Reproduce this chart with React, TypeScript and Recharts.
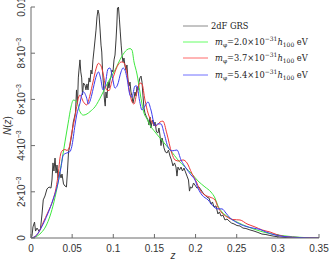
import { LineChart, Line, XAxis, YAxis, Legend } from "recharts";

const FRAME = "#6a6a6a";
const TEXT = "#333";
const SANS = "'Liberation Sans', Arial, Helvetica, sans-serif";
const SERIF = "'DejaVu Serif', 'Liberation Serif', serif";

// z ticks and N(z) ticks
const zTicks = [0, 0.05, 0.1, 0.15, 0.2, 0.25, 0.3, 0.35];
const nTicks = [0, 0.002, 0.004, 0.006, 0.008, 0.01];

// 2dF GRS redshift distribution (N in units of 1e-3)
const grsZ = [
  0, 0.0012, 0.0024, 0.0043, 0.0055, 0.0073, 0.0097, 0.0115, 0.0134, 0.0149,
  0.017, 0.0194, 0.0219, 0.0243, 0.0255, 0.0267, 0.0279, 0.0292, 0.0304, 0.0316,
  0.0328, 0.0346, 0.0365, 0.0377, 0.0395, 0.0413, 0.0431, 0.0444, 0.0456, 0.0474,
  0.0495, 0.0514, 0.0529, 0.0541, 0.0553, 0.0565, 0.0575, 0.0583, 0.0595, 0.0605,
  0.0616, 0.0626, 0.0638, 0.0656, 0.0668, 0.068, 0.0693, 0.0705, 0.0717, 0.0729,
  0.0741, 0.0753, 0.0766, 0.0778, 0.079, 0.0802, 0.0814, 0.0826, 0.0838, 0.0851,
  0.086, 0.0869, 0.0881, 0.0893, 0.0902, 0.0911, 0.0923, 0.0936, 0.0948, 0.096,
  0.0972, 0.0984, 0.0996, 0.1009, 0.1021, 0.1033, 0.1043, 0.1051, 0.1063, 0.1075,
  0.1085, 0.1096, 0.1106, 0.1118, 0.113, 0.1142, 0.1154, 0.1166, 0.1179, 0.1191,
  0.1203, 0.1215, 0.1227, 0.1239, 0.1252, 0.1264, 0.1276, 0.1288, 0.13, 0.1312,
  0.1324, 0.1337, 0.1349, 0.1361, 0.1373, 0.1385, 0.1403, 0.1422, 0.1434, 0.1446,
  0.1458, 0.147, 0.1482, 0.1495, 0.1507, 0.1525, 0.1543, 0.1555, 0.1567, 0.158,
  0.1592, 0.1604, 0.1616, 0.1634, 0.1653, 0.1671, 0.1689, 0.1707, 0.1725, 0.1744,
  0.1762, 0.1774, 0.1786, 0.1804, 0.1823, 0.1841, 0.1859, 0.1877, 0.1896, 0.1914,
  0.1926, 0.1938, 0.1956, 0.1975, 0.1993, 0.2017, 0.2041, 0.2066, 0.209, 0.2114,
  0.2139, 0.2163, 0.2187, 0.2205, 0.2224, 0.2248, 0.2272, 0.229, 0.2309, 0.2333,
  0.2357, 0.2382, 0.2406, 0.2436, 0.2467, 0.2503, 0.254, 0.2576, 0.2612, 0.2661,
  0.271, 0.2758, 0.2807, 0.2855, 0.2904, 0.2965, 0.3026, 0.3099, 0.3208, 0.3329,
  0.35,
];
const grsN = [
  0, 0.09, 0.48, 0.69, 0.3, 0.43, 0.3, 0.39, 1.04, 1.65,
  1.82, 2.12, 2.21, 2.16, 2.51, 3.25, 2.9, 3.46, 2.81, 3.16,
  2.6, 2.86, 2.6, 2.77, 2.34, 2.25, 2.21, 2.94, 3.72, 4.03,
  4.46, 5.02, 5.24, 5.45, 6.41, 5.8, 6.93, 7.27, 7.71, 7.19,
  6.93, 6.19, 6.71, 6.62, 6.41, 6.67, 6.41, 6.93, 6.75, 7.27,
  7.1, 7.71, 8.14, 8.57, 9.0, 9.57, 9.87, 9.7, 9.09, 8.35,
  8.05, 7.27, 6.62, 5.97, 5.71, 6.32, 6.06, 6.75, 6.49, 6.84,
  6.97, 7.27, 7.19, 7.71, 7.92, 8.57, 9.22, 9.96, 10.0, 9.44,
  8.92, 8.35, 7.92, 7.62, 7.79, 7.45, 7.27, 7.49, 6.84, 6.58,
  6.75, 6.32, 6.15, 5.84, 6.06, 6.32, 6.15, 6.54, 6.41, 6.75,
  6.93, 7.01, 6.75, 6.15, 5.63, 5.41, 5.24, 5.11, 4.89, 5.24,
  4.76, 5.02, 5.11, 4.85, 5.02, 4.59, 4.55, 4.76, 4.46, 4.0,
  4.33, 4.16, 3.9, 3.72, 3.68, 3.81, 3.55, 3.38, 3.12, 3.25,
  3.07, 2.68, 3.07, 2.94, 3.07, 2.9, 3.03, 2.86, 2.68, 2.51,
  2.03, 2.21, 2.16, 2.38, 2.29, 2.16, 2.21, 2.08, 1.95, 1.86,
  1.77, 1.73, 1.47, 1.56, 1.34, 1.39, 1.04, 1.13, 0.95, 0.99,
  0.78, 0.82, 0.74, 0.65, 0.61, 0.54, 0.52, 0.43, 0.41, 0.35,
  0.3, 0.24, 0.17, 0.15, 0.11, 0.07, 0.04, 0.02, 0.01, 0,
  0,
];

// model m_phi = 2.0e-31 h100 eV
const m20Z = [
  0, 0.0061, 0.0122, 0.0182, 0.0231, 0.0279, 0.0328, 0.0377, 0.0413, 0.045,
  0.0486, 0.0514, 0.0555, 0.0595, 0.0636, 0.068, 0.0717, 0.0778, 0.0859, 0.0936,
  0.1021, 0.1102, 0.1163, 0.1203, 0.1227, 0.1252, 0.1288, 0.1324, 0.1349, 0.1373,
  0.141, 0.1446, 0.1507, 0.1567, 0.1628, 0.1701, 0.1786, 0.1871, 0.1956, 0.2029,
  0.2114, 0.2187, 0.2236, 0.2272, 0.2321, 0.2394, 0.2503, 0.2637, 0.2783, 0.2928,
  0.3086, 0.3268, 0.35,
];
const m20N = [
  0, 0.06, 0.22, 0.52, 0.95, 1.56, 2.38, 3.38, 4.16, 4.94,
  5.67, 5.97, 5.9, 5.47, 5.32, 5.37, 5.47, 5.68, 6.19, 6.75,
  7.27, 7.85, 8.14, 8.2, 8.14, 7.62, 7.1, 6.32, 5.8, 5.41,
  5.15, 4.89, 4.59, 4.33, 4.07, 3.77, 3.38, 3.07, 2.77, 2.47,
  2.21, 1.99, 1.73, 1.39, 1.13, 0.91, 0.69, 0.48, 0.3, 0.17,
  0.09, 0.03, 0,
];

// model m_phi = 3.7e-31 h100 eV
const m37Z = [
  0, 0.0049, 0.0097, 0.0146, 0.0207, 0.0267, 0.0304, 0.0334, 0.0352, 0.0377,
  0.0413, 0.0437, 0.0462, 0.0495, 0.0535, 0.0575, 0.0595, 0.0636, 0.0677, 0.0717,
  0.0753, 0.079, 0.0818, 0.0851, 0.0875, 0.092, 0.0948, 0.0981, 0.1021, 0.1057,
  0.1102, 0.113, 0.1163, 0.1191, 0.1224, 0.1252, 0.1288, 0.1324, 0.1349, 0.1385,
  0.1422, 0.147, 0.1519, 0.1567, 0.1604, 0.1649, 0.171, 0.175, 0.1798, 0.1847,
  0.1896, 0.1953, 0.2005, 0.2053, 0.2114, 0.2175, 0.2236, 0.2272, 0.2321, 0.2382,
  0.2454, 0.254, 0.2625, 0.2722, 0.2807, 0.2904, 0.3001, 0.3147, 0.35,
];
const m37N = [
  0, 0.06, 0.26, 0.65, 1.13, 1.65, 2.16, 2.86, 3.46, 3.77,
  3.83, 3.79, 3.9, 4.55, 5.25, 6.05, 6.19, 5.9, 5.76, 6.19,
  6.75, 7.32, 7.56, 7.45, 7.14, 6.41, 6.38, 6.75, 7.19, 7.49,
  7.62, 7.58, 7.19, 6.49, 5.93, 5.8, 6.32, 6.71, 6.67, 5.97,
  5.41, 5.02, 4.85, 5.02, 5.06, 4.55, 3.68, 3.38, 3.33, 3.38,
  3.25, 2.81, 2.47, 2.08, 1.86, 1.77, 1.65, 1.34, 1.08, 0.91,
  0.8, 0.78, 0.61, 0.48, 0.35, 0.26, 0.13, 0.04, 0,
];

// model m_phi = 5.4e-31 h100 eV
const m54Z = [
  0, 0.0049, 0.0122, 0.0207, 0.0267, 0.0328, 0.0365, 0.0392, 0.0434, 0.0474,
  0.0495, 0.0535, 0.0555, 0.0595, 0.0616, 0.0636, 0.0677, 0.0696, 0.0738, 0.0757,
  0.0798, 0.082, 0.0845, 0.0875, 0.0899, 0.0936, 0.096, 0.0984, 0.1021, 0.1051,
  0.1094, 0.1118, 0.1142, 0.1166, 0.1203, 0.1227, 0.1264, 0.1288, 0.1318, 0.1349,
  0.1385, 0.1422, 0.1458, 0.1507, 0.1543, 0.158, 0.1616, 0.1665, 0.1713, 0.1774,
  0.1823, 0.1883, 0.1944, 0.1993, 0.2029, 0.2078, 0.2151, 0.2224, 0.2272, 0.2321,
  0.2369, 0.2418, 0.2491, 0.2612, 0.2698, 0.2783, 0.2855, 0.2965, 0.3086, 0.3268,
  0.35,
];
const m54N = [
  0, 0.06, 0.43, 1.08, 1.65, 2.38, 3.07, 3.59, 3.68, 3.74,
  3.95, 4.89, 5.32, 5.84, 6.19, 6.33, 6.05, 5.8, 6.19, 6.49,
  7.06, 7.19, 6.93, 6.41, 6.58, 7.32, 7.36, 7.06, 6.49, 6.62,
  7.19, 7.36, 7.27, 6.93, 6.19, 6.1, 6.58, 6.58, 5.97, 5.54,
  5.71, 5.89, 5.54, 4.85, 4.94, 4.94, 4.55, 3.94, 3.77, 3.81,
  3.38, 3.03, 2.73, 2.51, 2.16, 1.86, 1.65, 1.34, 1.26, 1.26,
  1.08, 0.87, 0.69, 0.5, 0.43, 0.37, 0.26, 0.13, 0.06, 0.02,
  0,
];

const toPoints = (zs: number[], ns: number[]) => zs.map((z, i) => ({ z, n: ns[i] * 1e-3 }));

const series = [
  { key: "grs", name: "2dF GRS", color: "#3a3a3a", legendColor: "#8a8a8a", type: "linear", data: toPoints(grsZ, grsN) },
  { key: "m20", name: "2.0", color: "#3ee83e", legendColor: "#66ff66", type: "monotone", data: toPoints(m20Z, m20N) },
  { key: "m37", name: "3.7", color: "#f03838", legendColor: "#ff6a6a", type: "monotone", data: toPoints(m37Z, m37N) },
  { key: "m54", name: "5.4", color: "#3c3cf0", legendColor: "#7070ff", type: "monotone", data: toPoints(m54Z, m54N) },
];

const fmtZ = (v: number) => String(v);

const BottomTick = ({ x, y, payload }: any) => (
  <g>
    <line x1={x} x2={x} y1={y} y2={y - 4} stroke={FRAME} />
    <text x={x} y={y + 14} textAnchor="middle" fontSize={10} fontFamily={SANS} fill={TEXT}>
      {fmtZ(payload.value)}
    </text>
  </g>
);

const TopTick = ({ x, y }: any) => (
  <line x1={x} x2={x} y1={y} y2={y + 4} stroke={FRAME} />
);

const RightTick = ({ x, y }: any) => (
  <line x1={x} x2={x - 4} y1={y} y2={y} stroke={FRAME} />
);

const LeftTick = ({ x, y, payload }: any) => {
  const v = payload.value;
  const tx = x - 6;
  let label: any;
  if (v === 0) label = "0";
  else if (Math.abs(v - 0.01) < 1e-9) label = "0.01";
  else
    label = (
      <>
        {Math.round(v * 1000)}×10
        <tspan dy={-4} fontSize={7}>−3</tspan>
      </>
    );
  return (
    <g>
      <line x1={x} x2={x + 4} y1={y} y2={y} stroke={FRAME} />
      <text
        x={tx}
        y={y}
        transform={`rotate(-90 ${tx} ${y})`}
        textAnchor="middle"
        fontSize={10}
        fontFamily={SANS}
        fill={TEXT}
      >
        {label}
      </text>
    </g>
  );
};

const legendLabel = (name: string) => {
  if (name === "2dF GRS") return <span>2dF GRS</span>;
  const sub = { fontSize: 6, position: "relative", top: 2, lineHeight: 0 } as const;
  const sup = { fontSize: 6, position: "relative", top: -4, lineHeight: 0 } as const;
  return (
    <span style={{ marginLeft: 4 }}>
      <i>m</i>
      <span style={sub}>φ</span>={name}×10<span style={sup}>−31</span>
      <i>h</i>
      <span style={sub}>100</span> eV
    </span>
  );
};

// keep the legend in the same order as the series (recharts sorts by name otherwise)
const renderLegend = () => (
  <div style={{ fontFamily: SERIF, fontSize: 8.3, color: "#222", lineHeight: "10px" }}>
    {series.map((s) => (
      <div key={s.key} style={{ display: "flex", alignItems: "center", height: 16.4, whiteSpace: "nowrap" }}>
        <svg width={25} height={4} style={{ display: "block", flex: "none" }}>
          <line x1={0} x2={25} y1={2} y2={2} stroke={s.legendColor} strokeWidth={1} />
        </svg>
        <span style={{ marginLeft: 3 }}>{legendLabel(s.name)}</span>
      </div>
    ))}
  </div>
);

export default function App() {
  return (
    <div style={{ position: "absolute", left: 0, top: 0, width: 329, height: 261, background: "#fff" }}>
      <LineChart width={329} height={261} margin={{ top: 7, right: 10, bottom: 0, left: 0 }}>
        <XAxis
          dataKey="z"
          type="number"
          domain={[0, 0.35]}
          ticks={zTicks}
          allowDataOverflow
          height={23}
          tickSize={0}
          tickMargin={0}
          tickLine={false}
          axisLine={{ stroke: FRAME }}
          tick={BottomTick}
          interval={0}
          label={({ viewBox }: any) => (
            <text
              x={viewBox.x + viewBox.width / 2 - 2}
              y={viewBox.y + 21}
              textAnchor="middle"
              fontSize={10}
              fontStyle="italic"
              fontFamily={SANS}
              fill={TEXT}
            >
              z
            </text>
          )}
        />
        <XAxis
          xAxisId="top"
          orientation="top"
          dataKey="z"
          type="number"
          domain={[0, 0.35]}
          ticks={zTicks}
          allowDataOverflow
          height={0}
          tickSize={0}
          tickMargin={0}
          tickLine={false}
          axisLine={{ stroke: FRAME }}
          tick={TopTick}
          interval={0}
        />
        <YAxis
          dataKey="n"
          type="number"
          domain={[0, 0.01]}
          ticks={nTicks}
          allowDataOverflow
          width={31}
          tickSize={0}
          tickMargin={0}
          tickLine={false}
          axisLine={{ stroke: FRAME }}
          tick={LeftTick}
          interval={0}
          label={({ viewBox }: any) => {
            const cx = viewBox.x + 11;
            const cy = viewBox.y + viewBox.height / 2 + 3;
            return (
              <text
                x={cx}
                y={cy}
                transform={`rotate(-90 ${cx} ${cy})`}
                textAnchor="middle"
                fontSize={10}
                fontFamily={SANS}
                fill={TEXT}
              >
                <tspan fontStyle="italic">N</tspan>(<tspan fontStyle="italic">z</tspan>)
              </text>
            );
          }}
        />
        <YAxis
          yAxisId="right"
          orientation="right"
          dataKey="n"
          type="number"
          domain={[0, 0.01]}
          ticks={nTicks}
          allowDataOverflow
          width={0}
          tickSize={0}
          tickMargin={0}
          tickLine={false}
          axisLine={{ stroke: FRAME }}
          tick={RightTick}
          interval={0}
        />
        <Legend
          layout="vertical"
          align="center"
          verticalAlign="middle"
          content={renderLegend}
          wrapperStyle={{ position: "absolute", left: 183, top: 17.5, width: "auto", height: "auto" }}
        />
        {series.map((s) => (
          <Line
            key={s.key}
            data={s.data}
            dataKey="n"
            name={s.name}
            type={s.type as any}
            stroke={s.color}
            strokeWidth={1}
            dot={false}
            activeDot={false}
            isAnimationActive={false}
          />
        ))}
      </LineChart>
    </div>
  );
}
